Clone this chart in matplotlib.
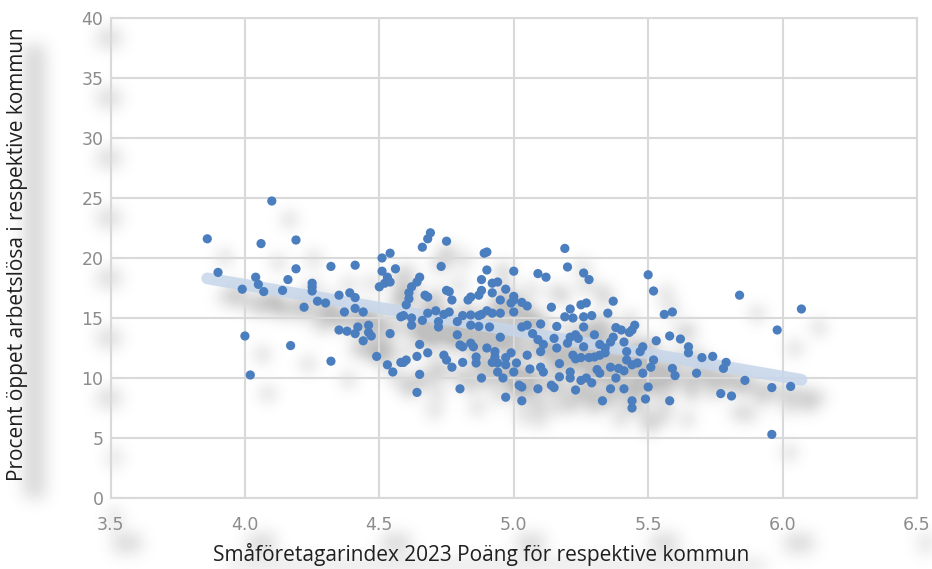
import numpy as np
import matplotlib
matplotlib.use("Agg")
import matplotlib.pyplot as plt

# index score vs unemployment share, one point per municipality
x_vals = [
    3.86, 3.90, 3.99, 4.00, 4.02, 4.04, 4.05, 4.07, 4.06, 4.10, 4.19, 4.19, 4.16, 4.14, 4.22, 4.17,
    4.32, 4.41, 4.25, 4.25, 4.25, 4.27, 4.30, 4.35, 4.37, 4.39, 4.41, 4.41, 4.44, 4.35, 4.38, 4.41,
    4.42, 4.46, 4.46, 4.47, 4.44, 4.32, 4.49, 4.53, 4.55, 4.58, 4.54, 4.51, 4.54, 4.51, 4.56, 4.53,
    4.54, 4.50, 4.52, 4.58,
    4.69, 4.68, 4.66, 4.75, 4.73, 4.65, 4.64, 4.62, 4.61, 4.61, 4.60, 4.67, 4.68, 4.75, 4.76, 4.77,
    4.59, 4.62, 4.62, 4.66, 4.68, 4.71, 4.72, 4.72, 4.74, 4.76, 4.79, 4.81, 4.79, 4.80, 4.81, 4.84,
    4.85, 4.84, 4.84, 4.84, 4.83, 4.87, 4.88, 4.89, 4.90, 4.90, 4.88, 4.92, 4.94, 4.92, 4.95, 4.87,
    4.88, 4.90, 4.92, 4.95, 4.87, 4.91, 4.95, 4.90, 4.93, 4.93, 4.92, 4.94, 4.94, 4.96, 4.86, 4.86,
    4.81, 4.77, 4.75, 4.74, 4.68, 4.65, 4.64, 4.60, 4.59, 4.65, 4.64, 4.80, 4.88,
    5.19, 5.20, 5.00, 5.09, 5.12, 5.26, 5.28, 4.97, 5.00, 5.00, 5.03, 5.05, 4.99, 5.00, 5.14, 5.25,
    5.27, 5.21, 5.22, 5.19, 5.26, 5.29, 5.16, 5.26, 5.30, 5.05, 5.03, 5.10, 5.07, 5.09, 5.11, 5.10,
    5.15, 5.16, 5.21, 5.23, 5.24, 5.20, 5.26, 5.22, 5.23, 5.25, 5.28, 5.30, 5.32, 4.99, 4.97, 4.97,
    5.00, 5.05, 5.01, 5.06, 5.10, 5.11, 5.17, 5.17, 5.21, 5.21, 5.25, 5.27, 5.29, 5.31, 5.02, 5.03,
    5.14, 5.15, 5.09, 5.23, 4.97, 5.03, 5.33,
    5.50, 5.52, 5.37, 5.35, 5.56, 5.59, 5.38, 5.45, 5.43, 5.37, 5.36, 5.34, 5.41, 5.53, 5.58, 5.62,
    5.65, 5.65, 5.42, 5.47, 5.48, 5.42, 5.44, 5.46, 5.52, 5.51, 5.36, 5.39, 5.41, 5.32, 5.48, 5.59,
    5.60, 5.68, 5.38, 5.36, 5.41, 5.50, 5.44, 5.44, 5.49, 5.58, 5.70, 5.32, 5.34, 5.40, 5.44,
    5.84, 6.07, 5.98, 5.74, 5.79, 5.78, 5.86, 5.77, 5.81, 5.96, 6.03, 5.96,
]
y_vals = [
    21.6, 18.8, 17.4, 13.5, 10.25, 18.4, 17.8, 17.2, 21.2, 24.75, 21.5, 19.1, 18.2, 17.3, 15.9, 12.7,
    19.3, 19.4, 17.9, 17.6, 17.25, 16.4, 16.25, 16.9, 15.5, 17.1, 16.7, 15.8, 15.5, 14.0, 13.9, 13.7,
    14.25, 14.4, 13.8, 13.5, 13.1, 11.4, 11.8, 11.1, 10.5, 11.3, 13.7, 20.0, 20.4, 18.9, 19.1, 18.4,
    18.0, 17.6, 17.9, 15.1,
    22.1, 21.6, 20.9, 21.4, 19.3, 18.4, 18.0, 17.6, 17.1, 16.6, 16.1, 16.9, 16.75, 17.3, 17.2, 16.5,
    15.2, 15.0, 14.4, 14.8, 15.4, 15.6, 14.7, 14.25, 15.3, 15.5, 14.7, 15.2, 13.6, 12.75, 12.6, 12.9,
    12.6, 14.4, 15.25, 16.75, 16.5, 16.9, 17.3, 20.4, 20.5, 19.0, 18.2, 17.9, 18.0, 17.1, 16.5, 15.2,
    15.3, 15.6, 15.4, 15.4, 14.3, 14.25, 13.4, 12.5, 12.2, 11.75, 11.3, 11.25, 10.5, 10.0, 11.75, 11.25,
    11.3, 10.9, 11.5, 11.9, 12.1, 12.8, 11.8, 11.5, 11.3, 10.3, 8.8, 9.1, 10.0,
    20.8, 19.25, 18.9, 18.7, 18.4, 18.75, 18.2, 17.4, 16.8, 16.5, 16.3, 16.0, 16.25, 15.5, 15.9, 16.1,
    16.25, 15.75, 15.0, 15.1, 15.1, 15.2, 14.3, 14.25, 13.6, 14.4, 14.25, 14.5, 13.7, 13.2, 12.8, 12.2,
    13.3, 12.5, 13.4, 13.6, 13.3, 12.9, 12.6, 11.9, 11.6, 11.7, 11.7, 11.75, 11.9, 12.1, 11.7, 11.1,
    10.5, 11.9, 11.25, 10.75, 10.9, 10.5, 11.2, 10.1, 10.5, 10.0, 9.8, 10.0, 9.6, 10.7, 9.4, 9.25,
    9.4, 9.2, 9.1, 9.0, 8.4, 8.1, 8.1,
    18.6, 17.25, 16.4, 15.4, 15.3, 15.5, 14.2, 14.4, 13.8, 13.4, 13.0, 12.1, 13.0, 13.1, 13.5, 13.25,
    12.6, 12.1, 12.2, 12.2, 12.6, 11.5, 11.1, 11.25, 11.5, 10.9, 10.9, 10.8, 10.6, 10.4, 10.4, 10.8,
    10.2, 10.4, 10.0, 9.1, 9.1, 9.25, 8.1, 7.5, 8.25, 8.1, 11.7, 12.8, 12.5, 14.0, 14.0,
    16.9, 15.75, 14.0, 11.8, 11.3, 10.8, 9.8, 8.7, 8.5, 9.2, 9.3, 5.3,
]

# linear trend line as drawn in the original (start, end)
trend_x = [3.86, 6.07]
trend_y = [18.3, 9.85]

x_ticks = [3.5, 4.0, 4.5, 5.0, 5.5, 6.0, 6.5]
y_ticks = [0, 5, 10, 15, 20, 25, 30, 35, 40]
x_title = "Småföretagarindex 2023 Poäng för respektive kommun"
y_title = "Procent öppet arbetslösa i respektive kommun"

W, H = 932, 569
fig = plt.figure(figsize=(W / 100, H / 100), dpi=100, facecolor="white")
ax = fig.add_axes([110.5 / W, 1 - 498 / H, (917 - 110.5) / W, (498 - 18) / H])
ax.patch.set_alpha(0)

grid_c = "#d9d9d9"
ax.set_xlim(3.5, 6.5)
ax.set_ylim(0, 40)
ax.set_xticks(x_ticks)
ax.set_yticks(y_ticks)
ax.set_xticklabels(["%.1f" % v for v in x_ticks])
ax.set_yticklabels([str(v) for v in y_ticks])
ax.grid(True, color=grid_c, lw=1.5)
ax.set_axisbelow(True)
for s in ax.spines.values():
    s.set_color(grid_c)
    s.set_linewidth(1.5)
ax.tick_params(length=0, colors="#8c8c8c", labelsize=12.5)
ax.tick_params(axis="x", pad=13)
ax.tick_params(axis="y", pad=5)
tick_font = ["Liberation Sans Narrow", "DejaVu Sans"]
for t in ax.get_xticklabels() + ax.get_yticklabels():
    t.set_family(tick_font)

ax.plot(trend_x, trend_y, color="#c6d6eb", lw=8.5, alpha=0.85,
        solid_capstyle="round", zorder=2)
ax.scatter(x_vals, y_vals, s=44, color="#4a7ebf", edgecolors="none", zorder=3)

xl = fig.text(481 / W, 1 - 555 / H, x_title, ha="center", va="center",
              fontsize=15, color="#1f1f1f", family=["Open Sans", "DejaVu Sans"])
yl = fig.text(18 / W, 1 - 254 / H, y_title, ha="center", va="center", rotation=90,
              fontsize=15, color="#1f1f1f", family=["Open Sans", "DejaVu Sans"])

# soft drop shadows like the original (offset down-right, blurred)
fig.canvas.draw()
renderer = fig.canvas.get_renderer()
dx, dy = 17, 18
mask = np.zeros((H, W))

pts = ax.transData.transform(np.column_stack([x_vals, y_vals]))
r = 4.6
for px, py in pts:
    cx, cy = px + dx, H - py + dy
    x0, x1 = int(max(cx - 6, 0)), int(min(cx + 7, W))
    y0, y1 = int(max(cy - 6, 0)), int(min(cy + 7, H))
    yy, xx = np.mgrid[y0:y1, x0:x1]
    mask[y0:y1, x0:x1][(xx - cx) ** 2 + (yy - cy) ** 2 <= r * r] = 1

lp = ax.transData.transform(np.column_stack([trend_x, trend_y]))
for f in np.linspace(0, 1, 300):
    cx = lp[0, 0] + f * (lp[1, 0] - lp[0, 0]) + dx
    cy = H - (lp[0, 1] + f * (lp[1, 1] - lp[0, 1])) + dy
    x0, x1 = int(cx - 6), int(cx + 7)
    y0, y1 = int(cy - 6), int(cy + 7)
    yy, xx = np.mgrid[y0:y1, x0:x1]
    sub = mask[y0:y1, x0:x1]
    inside = (xx - cx) ** 2 + (yy - cy) ** 2 <= 36
    sub[inside] = np.maximum(sub[inside], 0.5)

for t in ax.get_xticklabels() + ax.get_yticklabels() + [xl, yl]:
    bb = t.get_window_extent(renderer)
    c0, c1 = int(bb.x0 + dx), int(bb.x1 + dx)
    r0, r1 = int(H - bb.y1 + dy), int(H - bb.y0 + dy)
    c0, c1 = max(c0, 0), min(c1, W)
    r0, r1 = max(r0, 0), min(r1, H)
    mask[r0:r1, c0:c1] = np.maximum(mask[r0:r1, c0:c1], 0.35)


def blur(img, sigma):
    n = int(3 * sigma)
    k = np.exp(-0.5 * (np.arange(-n, n + 1) / sigma) ** 2)
    k /= k.sum()
    img = np.apply_along_axis(lambda v: np.convolve(v, k, mode="same"), 0, img)
    img = np.apply_along_axis(lambda v: np.convolve(v, k, mode="same"), 1, img)
    return img


shade = blur(mask, 8)
rgba = np.zeros((H, W, 4))
rgba[..., :3] = 0.35
rgba[..., 3] = np.clip(shade * 0.7, 0, 0.38)
fig.figimage(rgba, xo=0, yo=0, origin="upper", zorder=-1)

fig.savefig("out.png", dpi=100, facecolor="white")
